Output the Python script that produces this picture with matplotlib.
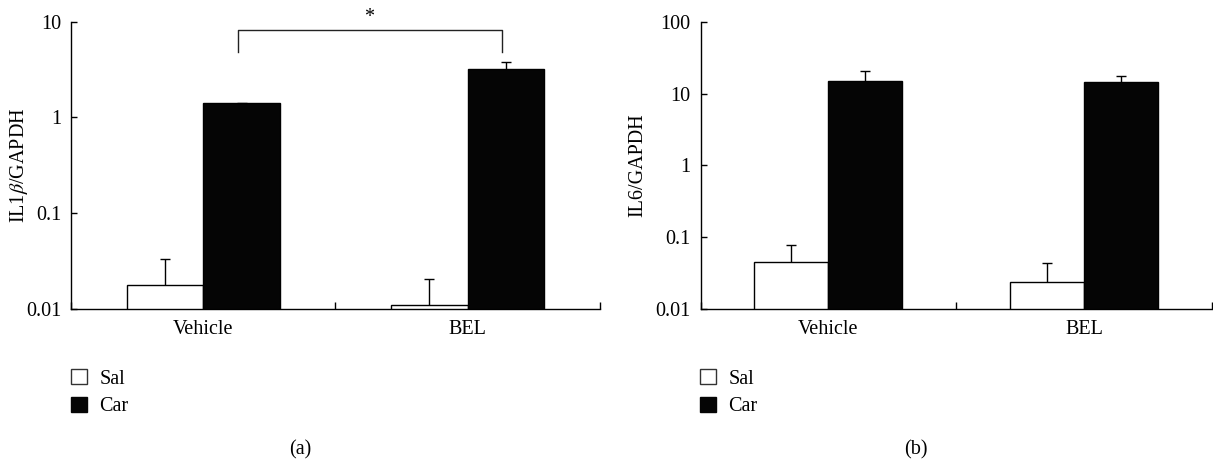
'''
    IL1b and IL6 expression relative to GAPDH (log scale bars)
'''

# - Imports

import matplotlib
matplotlib.use("Agg")
import matplotlib.pyplot as plt
from matplotlib.patches import Patch

# - Data

groups = ["Vehicle", "BEL"]
series = ["Sal", "Car"]

# Panel (a): IL1beta/GAPDH
il1b_sal = [0.018, 0.011]
il1b_sal_err = [0.015, 0.0096]
il1b_car = [1.40, 3.24]
il1b_car_err = [0.0, 0.57]

# Panel (b): IL6/GAPDH
il6_sal = [0.0448, 0.0235]
il6_sal_err = [0.032, 0.020]
il6_car = [14.9, 14.4]
il6_car_err = [6.0, 3.1]

# - Style

plt.rcParams["font.family"] = ["Liberation Serif", "DejaVu Serif"]
plt.rcParams["mathtext.fontset"] = "stix"
FS = 14.5


def upper_errorbar(ax, x, y, err):
    '''Error bars drawn upwards only'''
    _, caps, _ = ax.errorbar(x, y, yerr=[[0] * len(y), err], fmt="none", ecolor="black",
                             elinewidth=1.0, capsize=3.6, capthick=1.0, zorder=3)
    # Hide the cap sitting on the bar top
    caps[0].set_visible(False)


def draw_panel(fig, rect, sal, sal_err, car, car_err, ylim, yticks, ylabel, label_x):
    '''Draws one grouped log bar panel'''
    ax = fig.add_axes(rect)
    x = list(range(len(groups)))
    width = 0.29
    xs = [i - width / 2 for i in x]
    xc = [i + width / 2 for i in x]

    ax.bar(xs, sal, width, color="white", edgecolor="black", linewidth=1.0, zorder=2)
    ax.bar(xc, car, width, color="#050505", edgecolor="black", linewidth=1.0, zorder=2)

    upper_errorbar(ax, xs, sal, sal_err)
    upper_errorbar(ax, xc, car, car_err)

    ax.set_yscale("log")
    ax.set_ylim(*ylim)
    ax.set_xlim(-0.5, len(groups) - 0.5)
    ax.set_yticks(yticks)
    ax.set_yticklabels([("%g" % t) for t in yticks])
    ax.yaxis.set_minor_locator(plt.NullLocator())

    ax.set_xticks(x)
    ax.set_xticklabels(groups)
    ax.set_xticks([-0.5, 0.5, 1.5], minor=True)

    ax.tick_params(axis="y", which="major", direction="in", length=4, width=1.0,
                   labelsize=FS, pad=7)
    ax.tick_params(axis="x", which="major", length=0, labelsize=FS, pad=8)
    ax.tick_params(axis="x", which="minor", direction="in", length=5, width=1.0)

    for side in ["top", "right"]:
        ax.spines[side].set_visible(False)
    for side in ["left", "bottom"]:
        ax.spines[side].set_linewidth(1.0)

    ax.set_ylabel(ylabel, fontsize=FS)
    ax.yaxis.set_label_coords(label_x, 0.5)
    return ax


def main():
    '''Main'''
    fig = plt.figure(figsize=(12.13, 4.63), dpi=100)

    ax_a = draw_panel(fig, [0.0585, 0.3326, 0.4361, 0.6205], il1b_sal, il1b_sal_err,
                      il1b_car, il1b_car_err, (0.01, 10), [0.01, 0.1, 1, 10],
                      r"IL1$\beta$/GAPDH", -0.078)
    ax_b = draw_panel(fig, [0.5775, 0.3326, 0.4215, 0.6205], il6_sal, il6_sal_err,
                      il6_car, il6_car_err, (0.01, 100), [0.01, 0.1, 1, 10, 100],
                      "IL6/GAPDH", -0.104)

    # Significance bracket between Car bars
    ax_a.plot([0.13, 0.13, 1.128, 1.128], [4.83, 8.2, 8.2, 4.83], color="#222222",
              linewidth=1.0, clip_on=False)
    ax_a.text(0.629, 11.0, "*", ha="center", va="center", fontsize=FS)

    # Legends
    handles = [Patch(facecolor="white", edgecolor="#333333", linewidth=1.0),
               Patch(facecolor="#050505", edgecolor="#050505", linewidth=1.0)]
    for anchor in [(71 / 1213, 1 - 369 / 463), (700 / 1213, 1 - 369 / 463)]:
        fig.legend(handles, series, loc="upper left", bbox_to_anchor=anchor,
                   frameon=False, fontsize=FS, handlelength=0.8, handleheight=0.8,
                   handletextpad=0.6, labelspacing=0.4, borderpad=0, borderaxespad=0)

    fig.text(300 / 1213, 1 - 450 / 463, "(a)", ha="center", va="center", fontsize=FS)
    fig.text(916 / 1213, 1 - 450 / 463, "(b)", ha="center", va="center", fontsize=FS)

    fig.savefig("out.png", dpi=100)


# - Main

if __name__ == "__main__":
    main()
